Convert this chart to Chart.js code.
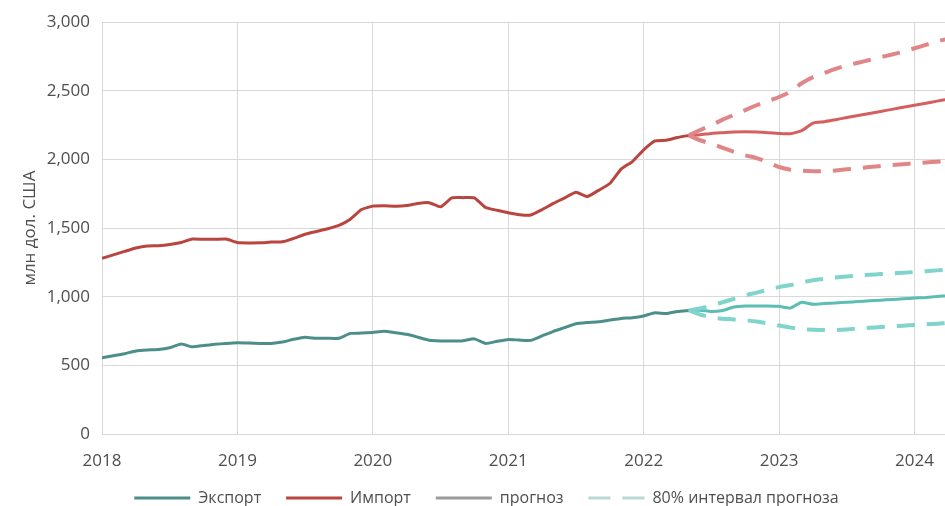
<!DOCTYPE html>
<html lang="ru">
<head>
<meta charset="utf-8">
<title>Экспорт и импорт</title>
<script src="https://cdn.jsdelivr.net/npm/chart.js@4.4.1/dist/chart.umd.min.js"></script>
<style>
    html, body { margin: 0; padding: 0; background: #fff; }
    #wrap { width: 945px; height: 506px; }
</style>
</head>
<body>
<div id="wrap"><canvas id="chart"></canvas></div>
<script>
// Months are counted from January 2018
const histStart = 0;       // 2018-01
const forecastStart = 52;  // 2022-05
const yearTicks = [2018, 2019, 2020, 2021, 2022, 2023, 2024];

const exportHist = [556, 570, 585, 605, 612, 615, 628, 655, 635, 645, 653, 660,
    665, 663, 660, 660, 670, 690, 705, 697, 697, 698, 733, 735,
    740, 748, 738, 726, 705, 683, 678, 677, 680, 693, 660, 675,
    689, 684, 682, 715, 748, 775, 803, 812, 818, 830, 842, 847,
    860, 883, 878, 893, 900];
const importHist = [1280, 1305, 1330, 1355, 1370, 1372, 1380, 1395, 1420, 1418, 1418, 1420,
    1395, 1392, 1393, 1398, 1400, 1425, 1455, 1475, 1495, 1520, 1565, 1635,
    1660, 1662, 1660, 1665, 1680, 1685, 1655, 1720, 1722, 1720, 1650, 1630,
    1612, 1598, 1595, 1635, 1680, 1720, 1762, 1730, 1775, 1825, 1930, 1985,
    2070, 2135, 2140, 2160, 2175];

const exportForecast = [900, 902, 892, 900, 925, 932, 932, 933, 930, 918, 960, 945,
    950, 955, 960, 965, 970, 975, 980, 985, 990, 995, 1002, 1008];
const exportUpper = [900, 915, 935, 960, 985, 1010, 1030, 1050, 1070, 1085, 1105, 1120,
    1130, 1140, 1148, 1155, 1160, 1165, 1170, 1175, 1180, 1186, 1192, 1198];
const exportLower = [900, 870, 850, 840, 835, 828, 820, 805, 790, 775, 765, 760,
    757, 758, 762, 768, 774, 779, 784, 789, 794, 799, 804, 808];

const importForecast = [2175, 2180, 2190, 2195, 2200, 2202, 2200, 2195, 2190, 2188, 2210, 2265,
    2275, 2290, 2305, 2320, 2335, 2350, 2365, 2380, 2395, 2410, 2425, 2440];
const importUpper = [2175, 2215, 2250, 2290, 2325, 2360, 2395, 2425, 2455, 2495, 2555, 2600,
    2630, 2660, 2685, 2705, 2725, 2745, 2765, 2785, 2810, 2835, 2860, 2880];
const importLower = [2175, 2140, 2115, 2085, 2055, 2030, 2010, 1980, 1945, 1925, 1918, 1915,
    1915, 1920, 1928, 1935, 1945, 1952, 1960, 1966, 1972, 1978, 1984, 1990];

const legendLabels = ['Экспорт', 'Импорт', 'прогноз', '80% интервал прогноза'];

const colors = {
    exportHist: '#4c8f8a',
    exportFc: '#5bbdb4',
    exportBand: '#7fd4cc',
    importHist: '#b8453e',
    importFc: '#d45f5e',
    importBand: '#e08686',
    forecastLegend: '#9b9b9b',
    bandLegend: '#b8d8d1',
    grid: '#d9d9d9',
    text: '#4f4f4f'
};

function toPoints(values, start) {
    return values.map((v, i) => ({ x: start + i, y: v }));
}

function solid(label, values, start, color) {
    return {
        label, data: toPoints(values, start), borderColor: color,
        borderWidth: 3, pointRadius: 0, tension: 0.15, fill: false
    };
}

function dashed(label, values, start, color) {
    return {
        label, data: toPoints(values, start), borderColor: color,
        borderWidth: 4, borderDash: [18, 12], borderCapStyle: 'butt',
        pointRadius: 0, tension: 0.35, fill: false
    };
}

const FONT = '"Open Sans", sans-serif';
const GAP = '      '; // spacing between legend entries

// nudge the legend right and down, as in the original layout
const legendShift = {
    id: 'legendShift',
    afterLayout(chart) {
        const lg = chart.legend;
        if (lg) {
            lg.left += 14;
            lg.right += 14;
            lg.top += 10;
            lg.bottom += 10;
        }
    }
};

new Chart(document.getElementById('chart'), {
    type: 'line',
    data: {
        datasets: [
            dashed('import upper', importUpper, forecastStart, colors.importBand),
            dashed('import lower', importLower, forecastStart, colors.importBand),
            dashed('export upper', exportUpper, forecastStart, colors.exportBand),
            dashed('export lower', exportLower, forecastStart, colors.exportBand),
            solid('import forecast', importForecast, forecastStart, colors.importFc),
            solid('export forecast', exportForecast, forecastStart, colors.exportFc),
            solid(legendLabels[1], importHist, histStart, colors.importHist),
            solid(legendLabels[0], exportHist, histStart, colors.exportHist)
        ]
    },
    options: {
        responsive: true,
        maintainAspectRatio: false,
        animation: false,
        layout: { autoPadding: false, padding: { top: 11, right: 0, bottom: 0, left: 0 } },
        scales: {
            x: {
                type: 'linear',
                min: 0,
                max: 74.7,
                afterBuildTicks: axis => {
                    axis.ticks = yearTicks.map(y => ({ value: (y - 2018) * 12 }));
                },
                afterFit: scale => {
                    scale.height = 46;
                    scale.paddingRight = 0;
                },
                ticks: {
                    padding: 17,
                    color: colors.text,
                    font: { family: FONT, size: 17 },
                    maxRotation: 0,
                    callback: v => String(2018 + Math.round(v / 12))
                },
                grid: { color: colors.grid, drawTicks: false },
                border: { color: colors.grid }
            },
            y: {
                min: 0,
                max: 3000,
                afterFit: scale => { scale.width = 102; },
                ticks: {
                    stepSize: 500,
                    padding: 12,
                    color: colors.text,
                    font: { family: FONT, size: 17 },
                    callback: v => v.toLocaleString('en-US')
                },
                title: {
                    display: true,
                    text: 'млн дол. США',
                    color: colors.text,
                    font: { family: FONT, size: 17 },
                    padding: { top: 20, bottom: 0 }
                },
                grid: { color: colors.grid, drawTicks: false },
                border: { color: colors.grid }
            }
        },
        plugins: {
            tooltip: { enabled: false },
            legend: {
                position: 'bottom',
                labels: {
                    color: colors.text,
                    font: { family: FONT, size: 16 },
                    usePointStyle: true,
                    pointStyleWidth: 56,
                    boxHeight: 10,
                    padding: 0,
                    generateLabels: () => [
                        { text: legendLabels[0] + GAP, pointStyle: 'line', strokeStyle: colors.exportHist, fillStyle: colors.exportHist, lineWidth: 3, fontColor: colors.text },
                        { text: legendLabels[1] + GAP, pointStyle: 'line', strokeStyle: colors.importHist, fillStyle: colors.importHist, lineWidth: 3, fontColor: colors.text },
                        { text: legendLabels[2] + GAP, pointStyle: 'line', strokeStyle: colors.forecastLegend, fillStyle: colors.forecastLegend, lineWidth: 3, fontColor: colors.text },
                        { text: legendLabels[3], pointStyle: 'line', strokeStyle: colors.bandLegend, fillStyle: colors.bandLegend, lineWidth: 3, lineDash: [22, 12], fontColor: colors.text }
                    ]
                }
            }
        }
    },
    plugins: [legendShift]
});
</script>
</body>
</html>
